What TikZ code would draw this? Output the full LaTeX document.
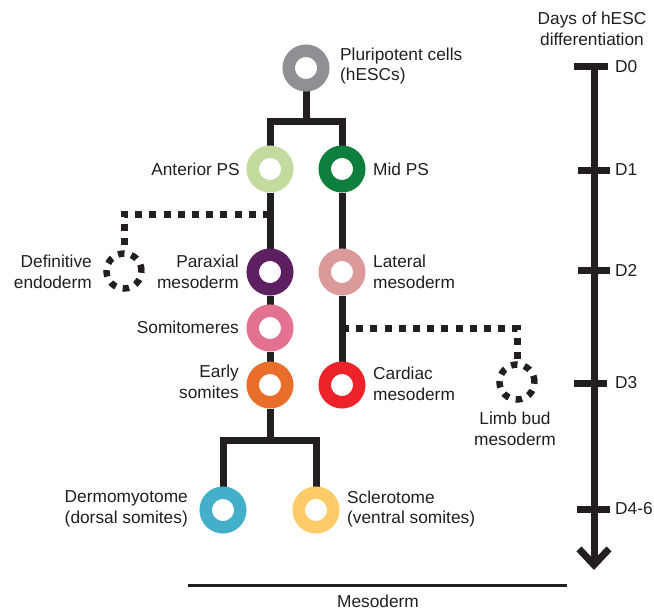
\documentclass[tikz,border=0pt]{standalone}
\usepackage{fontspec}
\setmainfont{Liberation Sans}
\usetikzlibrary{arrows.meta,backgrounds}
\definecolor{ink}{HTML}{231F20}
\definecolor{cPluri}{HTML}{8E9093}
\definecolor{cAnt}{HTML}{C4DB9F}
\definecolor{cMid}{HTML}{0F7F3E}
\definecolor{cPar}{HTML}{5C1F5F}
\definecolor{cLat}{HTML}{D99A99}
\definecolor{cSomi}{HTML}{E27290}
\definecolor{cEarly}{HTML}{E86E2A}
\definecolor{cCard}{HTML}{EE2229}
\definecolor{cDerm}{HTML}{44AFC8}
\definecolor{cScl}{HTML}{FECB69}
\begin{document}
\begin{tikzpicture}[x=1pt,y=-1pt,
  ring/.style={circle,draw=#1,fill=white,line width=12.5pt,minimum size=34.5pt,inner sep=0pt},
  dotring/.style={circle,draw=ink,dash pattern=on 6.5pt off 7pt,line width=6.5pt,minimum size=35pt,inner sep=0pt},
  lbl/.style={font=\fontsize{17.3}{20.5}\selectfont,text=ink,inner sep=0pt},
  tree/.style={draw=ink,line width=7pt},
  dotline/.style={draw=ink,line width=7pt,dash pattern=on 7pt off 7.2pt},
]
\useasboundingbox (0,0) rectangle (654,610);

% ring nodes
\node[ring=cPluri] (pluri) at (306,68) {};
\node[ring=cAnt] (ant) at (270,169) {};
\node[ring=cMid] (mid) at (342,169) {};
\node[ring=cPar] (par) at (270,272) {};
\node[ring=cLat] (lat) at (342,272) {};
\node[ring=cSomi] (somi) at (270,328) {};
\node[ring=cEarly] (early) at (270,385) {};
\node[ring=cCard] (card) at (342,385) {};
\node[ring=cDerm] (derm) at (223,510) {};
\node[ring=cScl] (scl) at (316,510) {};
\node[dotring] (endo) at (124,271) {};
\node[dotring] (limb) at (517,382) {};

% junction coordinates
\coordinate (top) at (306,122);
\coordinate (bot) at (270,440);
\coordinate (dl) at (270,214);
\coordinate (dr) at (342,328);

% timeline coordinates
\coordinate (t0) at (594,63.5);
\coordinate (tend) at (594,570);

\begin{scope}[on background layer]
\fill[white] (0,0) rectangle (654,610);
\draw[tree] (pluri) -- (top);
\draw[tree] (ant) |- (top) -| (mid);
\draw[tree] (ant) -- (par) -- (somi) -- (early);
\draw[tree] (mid) -- (lat) -- (card);
\draw[tree] (early) -- (bot);
\draw[tree] (derm) |- (bot) -| (scl);
\draw[dotline] (dl) -| (endo);
\draw[dotline] (dr) -| (limb);
\end{scope}

% timeline
\draw[tree,-{Straight Barb[length=16pt,width=30pt]}] (t0) -- (tend);
\draw[tree] (574,67) -- (608,67);
\draw[tree] (578,170) -- (610,170);
\draw[tree] (578,270) -- (610,270);
\draw[tree] (574,383) -- (607,383);
\draw[tree] (577,509) -- (610,509);
\draw[draw=ink,line width=3pt] (188,585) -- (567,585);

% labels
\node[lbl,anchor=west,align=left] (tPluri) at (340,66) {Pluripotent cells\\(hESCs)};
\node[lbl,anchor=east] (tAnt) at (240,169) {Anterior PS};
\node[lbl,anchor=west] (tMid) at (373,169) {Mid PS};
\node[lbl,anchor=east,align=right] (tEndo) at (92,272) {Definitive\\endoderm};
\node[lbl,anchor=east,align=right] (tPar) at (239,272) {Paraxial\\mesoderm};
\node[lbl,anchor=west,align=left] (tLat) at (373,272) {Lateral\\mesoderm};
\node[lbl,anchor=east] (tSomi) at (239,327) {Somitomeres};
\node[lbl,anchor=east,align=right] (tEarly) at (239,382) {Early\\somites};
\node[lbl,anchor=west,align=left] (tCard) at (373,384) {Cardiac\\mesoderm};
\node[lbl,align=center] (tLimb) at (515,429) {Limb bud\\mesoderm};
\node[lbl,anchor=east,align=right] (tDerm) at (188,509) {Dermomyotome\\(dorsal somites)};
\node[lbl,anchor=west,align=left] (tScl) at (347,509) {Sclerotome\\(ventral somites)};
\node[lbl] (tMeso) at (378,601) {Mesoderm};
\node[lbl,align=center] (tDays) at (592,29) {Days of hESC\\differentiation};
\node[lbl,anchor=west] (d0) at (615,67) {D0};
\node[lbl,anchor=west] (d1) at (615,170) {D1};
\node[lbl,anchor=west] (d2) at (615,270) {D2};
\node[lbl,anchor=west] (d3) at (615,383) {D3};
\node[lbl,anchor=west] (d4) at (615,509) {D4-6};
\end{tikzpicture}
\end{document}
